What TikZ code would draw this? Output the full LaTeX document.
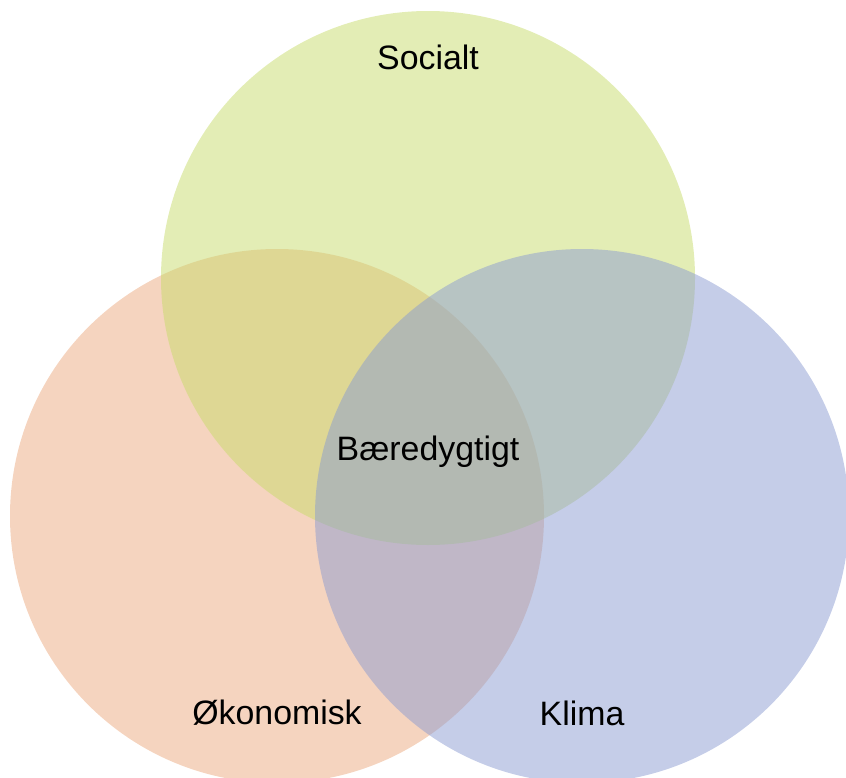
\documentclass[tikz,border=0pt]{standalone}
\usepackage{fontspec}
\setmainfont{Liberation Sans}
\definecolor{socialcol}{HTML}{C7DB6B}
\definecolor{okocol}{HTML}{EBA97F}
\definecolor{klimacol}{HTML}{8B9BD1}
\tikzset{lbl/.style={font=\fontsize{25.4}{30}\selectfont}}
\begin{document}
\begin{tikzpicture}[x=0.75pt,y=-0.75pt]
\pgfmathsetmacro {\R }{267}
\useasboundingbox (0,0) rectangle (846,778);
\begin{scope}
\clip (0,0) rectangle (846,778);
%\draw (0,0) grid[step=100] (846,778);
\fill[okocol, fill opacity=0.5] (277,516) circle (\R);
\fill[socialcol, fill opacity=0.5] (428,278) circle (\R);
\fill[klimacol, fill opacity=0.5] (582,516) circle (\R);
\end{scope}
\node[lbl] (social) at (428,57) {Socialt};
\node[lbl] (oko) at (277,713) {Økonomisk};
\node[lbl] (klima) at (582,713) {Klima};
\node[lbl] (baere) at (428,452) {Bæredygtigt};
\end{tikzpicture}
\end{document}
